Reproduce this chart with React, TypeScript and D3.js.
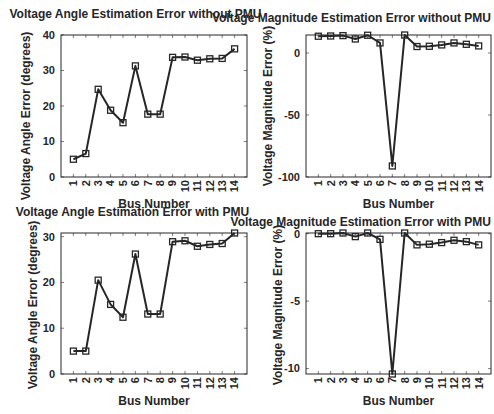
import React from 'react';
import * as d3 from 'd3';

const buses = [1, 2, 3, 4, 5, 6, 7, 8, 9, 10, 11, 12, 13, 14];

const angleErrNoPmu = [5.0, 6.6, 24.7, 18.8, 15.3, 31.3, 17.7, 17.7, 33.7, 33.8, 32.9, 33.3, 33.4, 36.1];
const magErrNoPmu = [13.5, 13.7, 14.0, 11.3, 14.3, 8.1, -91.1, 14.5, 5.2, 5.4, 6.5, 8.1, 7.0, 5.7];
const angleErrPmu = [5.0, 5.0, 20.5, 15.2, 12.4, 26.2, 13.1, 13.1, 28.9, 29.1, 27.9, 28.3, 28.5, 30.8];
const magErrPmu = [0.0, 0.0, 0.05, -0.22, 0.05, -0.42, -10.4, 0.05, -0.83, -0.78, -0.66, -0.49, -0.59, -0.83];

const FONT = '"Liberation Sans", Arial, Helvetica, sans-serif';
const INK = '#262626';

function Panel({ box, values, yDomain, yTicks, title, titleX, titleY, titleAnchor, yLabel, yLabelX, yLabelY }) {
  const [x0, x1, y0, y1] = box;
  const x = d3.scaleLinear().domain([0, 15]).range([x0, x1]);
  const y = d3.scaleLinear().domain(yDomain).range([y1, y0]);
  const line = d3.line().x((d, i) => x(buses[i])).y(d => y(d));
  const tk = 3;

  return (
    <g fontFamily={FONT} fontWeight="bold" fill={INK}>
      <rect x={x0} y={y0} width={x1 - x0} height={y1 - y0} fill="white" stroke={INK} strokeWidth={1} />
      {buses.map(b => (
        <g key={b}>
          <line x1={x(b)} x2={x(b)} y1={y1} y2={y1 - tk} stroke={INK} strokeWidth={0.6} />
          <line x1={x(b)} x2={x(b)} y1={y0} y2={y0 + tk} stroke={INK} strokeWidth={0.6} />
          <text
            transform={`translate(${x(b)},${y1 + 3}) rotate(-90)`}
            textAnchor="end"
            dy="0.35em"
            fontSize={11}
          >
            {b}
          </text>
        </g>
      ))}
      {yTicks.map(t => (
        <g key={t}>
          <line x1={x0} x2={x0 + tk} y1={y(t)} y2={y(t)} stroke={INK} strokeWidth={0.6} />
          <line x1={x1} x2={x1 - tk} y1={y(t)} y2={y(t)} stroke={INK} strokeWidth={0.6} />
          <text x={x0 - 6} y={y(t)} dy="0.35em" textAnchor="end" fontSize={11}>
            {t}
          </text>
        </g>
      ))}
      <path d={line(values)} fill="none" stroke={INK} strokeWidth={2} strokeLinejoin="round" />
      {values.map((v, i) => (
        <rect
          key={i}
          x={x(buses[i]) - 3}
          y={y(v) - 3}
          width={6}
          height={6}
          fill="none"
          stroke={INK}
          strokeWidth={1.3}
        />
      ))}
      <text x={titleX} y={titleY} textAnchor={titleAnchor} fontSize={12}>
        {title}
      </text>
      <text x={(x0 + x1) / 2} y={y1 + 31} textAnchor="middle" fontSize={12}>
        Bus Number
      </text>
      <text
        transform={`translate(${yLabelX},${yLabelY}) rotate(-90)`}
        textAnchor="middle"
        fontSize={12}
      >
        {yLabel}
      </text>
    </g>
  );
}

export default function App() {
  return (
    <svg
      width={494}
      height={414}
      style={{ position: 'absolute', left: 0, top: 0, background: 'white' }}
    >
      <Panel
        box={[61, 247, 35, 177]}
        values={angleErrNoPmu}
        yDomain={[0, 40]}
        yTicks={[0, 10, 20, 30, 40]}
        title="Voltage Angle Estimation Error without PMU"
        titleX={135.5}
        titleY={18}
        titleAnchor="middle"
        yLabel="Voltage Angle Error (degrees)"
        yLabelX={30}
        yLabelY={116}
      />
      <Panel
        box={[306, 491, 35, 177]}
        values={magErrNoPmu}
        yDomain={[-100, 14.5]}
        yTicks={[-100, -50, 0]}
        title="Voltage Magnitude Estimation Error without PMU"
        titleX={491}
        titleY={22}
        titleAnchor="end"
        yLabel="Voltage Magnitude Error (%)"
        yLabelX={272}
        yLabelY={106}
      />
      <Panel
        box={[61, 247, 233, 374]}
        values={angleErrPmu}
        yDomain={[0, 30.8]}
        yTicks={[0, 10, 20, 30]}
        title="Voltage Angle Estimation Error with PMU"
        titleX={132.5}
        titleY={216}
        titleAnchor="middle"
        yLabel="Voltage Angle Error (degrees)"
        yLabelX={37}
        yLabelY={305}
      />
      <Panel
        box={[306, 491, 233, 374]}
        values={magErrPmu}
        yDomain={[-10.4, 0.05]}
        yTicks={[-10, -5, 0]}
        title="Voltage Magnitude Estimation Error with PMU"
        titleX={491}
        titleY={226}
        titleAnchor="end"
        yLabel="Voltage Magnitude Error (%)"
        yLabelX={282}
        yLabelY={305}
      />
    </svg>
  );
}
